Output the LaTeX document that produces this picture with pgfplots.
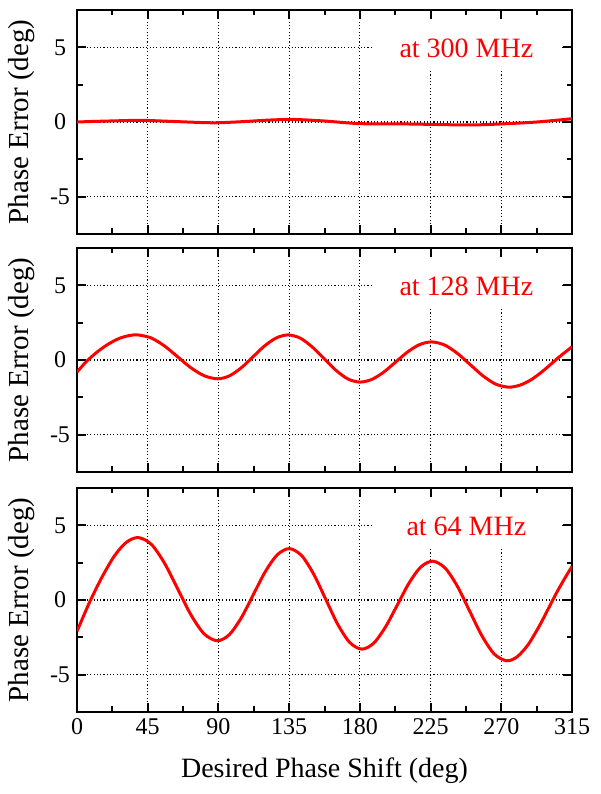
\documentclass[border=0pt]{standalone}
\usepackage{fontspec}
\setmainfont{Liberation Serif}
\usepackage{pgfplots}
\pgfplotsset{compat=1.18}
\pgfplotsset{
 myax/.style={
  scale only axis, width=495pt, height=224pt,
  xmin=0,xmax=315,ymin=-7.5,ymax=7.5,
  xtick={0,45,...,315}, ytick={-5,0,5}, yticklabels={-5,0,5},
  minor x tick num=1, minor y tick num=1,
  grid=major,
  major grid style={black, line width=1.1pt, dash pattern=on 1.1pt off 2.2pt},
  axis line style={line width=2pt},
  tick style={black, line width=2pt},
  major tick length=9pt, minor tick length=5.5pt,
  tick align=inside,
  tick label style={font=\fontsize{24}{28}\selectfont},
  yticklabel style={anchor=center, xshift=-17pt},
  ylabel={Phase Error (deg)},
  ylabel style={font=\fontsize{29}{34}\selectfont, at={(axis description cs:-0.111,0.5)}, anchor=center},
 },
 curve/.style={red, line width=3pt, smooth, no markers},
}
\begin{document}
\begin{tikzpicture}
\useasboundingbox (0,0) rectangle (601pt,794pt);
% ---- 300 MHz
\begin{axis}[myax, at={(77pt,560pt)}, anchor=south west, xticklabels={}]
\fill[white] (axis cs:187.7,3.5) rectangle (axis cs:308,6.85);
\node[text=red, font=\fontsize{28}{34}\selectfont] at (axis cs:247.8,4.9) {at 300 MHz};
\addplot[curve] coordinates {
(0,0.0) (15,0.05) (37.8,0.11) (45,0.1) (60,0.04) (80.3,-0.04) (90,-0.05) (105,0.02)
(122.8,0.13) (137.6,0.17) (156.8,0.07) (180,-0.11) (207.7,-0.13) (225,-0.16)
(250.2,-0.2) (270,-0.13) (292.7,0.0) (315,0.22)};
\end{axis}
% ---- 128 MHz
\begin{axis}[myax, at={(77pt,322pt)}, anchor=south west, xticklabels={}]
\fill[white] (axis cs:187.7,3.5) rectangle (axis cs:308,6.85);
\node[text=red, font=\fontsize{28}{34}\selectfont] at (axis cs:247.8,4.9) {at 128 MHz};
\addplot[curve] coordinates {
(0,-0.81) (6,-0.1) (13,0.55) (20,1.07) (27,1.45) (33,1.63) (38.6,1.68)
(47.1,1.48) (55.6,0.945) (64.1,0.21) (72.6,-0.53) (81.1,-1.06) (89.6,-1.26)
(97.05,-1.06) (104.5,-0.525) (111.95,0.21) (119.4,0.945) (126.85,1.48) (134.3,1.68)
(141.92,1.47) (149.53,0.89) (157.15,0.10) (164.77,-0.69) (172.38,-1.27) (180,-1.48)
(187.6,-1.30) (195.2,-0.81) (202.8,-0.135) (210.4,0.54) (218.0,1.03) (225.6,1.21)
(233.78,1.01) (241.97,0.45) (250.15,-0.305) (258.33,-1.06) (266.52,-1.62) (274.7,-1.82)
(282,-1.68) (289,-1.32) (296,-0.78) (302,-0.24) (308,0.30) (315,0.88)};
\end{axis}
% ---- 64 MHz
\begin{axis}[myax, at={(77pt,82pt)}, anchor=south west,
  xticklabels={0,45,90,135,180,225,270,315},
  xticklabel style={yshift=-3pt},
  xlabel={Desired Phase Shift (deg)},
  xlabel style={font=\fontsize{28}{34}\selectfont, at={(axis description cs:0.5,0)}, anchor=base, yshift=-65pt}]
\fill[white] (axis cs:187.7,3.5) rectangle (axis cs:308,6.85);
\node[text=red, font=\fontsize{28}{34}\selectfont] at (axis cs:247.8,4.9) {at 64 MHz};
\addplot[curve] coordinates {
(0,-2.1) (8,-0.15) (16,1.55) (24,2.98) (31.5,3.87) (39,4.18)
(47.38,3.72) (55.77,2.45) (64.15,0.73) (72.53,-1.00) (80.92,-2.27) (89.3,-2.73)
(96.93,-2.32) (104.57,-1.19) (112.2,0.36) (119.83,1.90) (127.47,3.03) (135.1,3.44)
(142.78,2.99) (150.47,1.76) (158.15,0.08) (165.83,-1.61) (173.52,-2.84) (181.2,-3.29)
(188.72,-2.90) (196.23,-1.82) (203.75,-0.35) (211.27,1.13) (218.78,2.21) (226.3,2.6)
(234.15,2.15) (242.0,0.93) (249.85,-0.74) (257.7,-2.40) (265.55,-3.62) (273.4,-4.07)
(280,-3.81) (287,-3.00) (294,-1.78) (300,-0.57) (305,0.45) (310,1.38) (315,2.25)};
\end{axis}
\end{tikzpicture}
\end{document}
